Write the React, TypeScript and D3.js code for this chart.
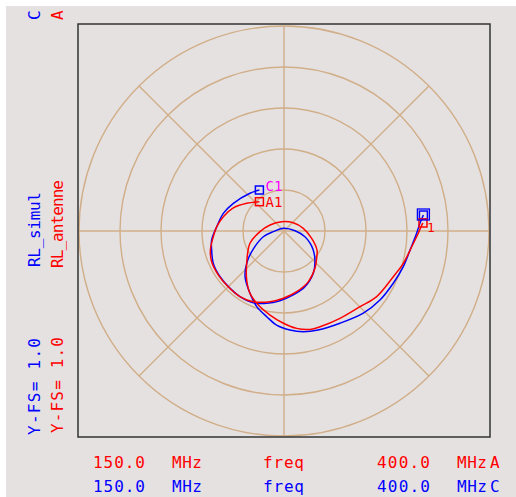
import React, { useRef, useEffect } from 'react';
import * as d3 from 'd3';

// reflection coefficient traces, 150 -> 400 MHz (real / imaginary parts, full scale 1.0)
const simulRe = [-0.120, -0.166, -0.247, -0.296, -0.328, -0.353, -0.353, -0.345, -0.312, -0.263, -0.215, -0.150, -0.084, -0.020, 0.045, 0.102, 0.143, 0.151, 0.141, 0.127, 0.102, 0.054, -0.003, -0.052, -0.101, -0.150, -0.180, -0.190, -0.166, -0.133, -0.084, -0.036, 0.029, 0.094, 0.166, 0.273, 0.387, 0.468, 0.533, 0.582, 0.615, 0.647, 0.663, 0.680];
const simulIm = [0.200, 0.184, 0.135, 0.086, 0.021, -0.044, -0.093, -0.158, -0.223, -0.280, -0.320, -0.350, -0.353, -0.340, -0.312, -0.272, -0.206, -0.141, -0.088, -0.059, -0.028, 0.001, 0.013, -0.003, -0.028, -0.088, -0.151, -0.223, -0.304, -0.369, -0.418, -0.459, -0.483, -0.491, -0.483, -0.450, -0.401, -0.337, -0.255, -0.174, -0.093, -0.011, 0.038, 0.078];

const antenneRe = [-0.120, -0.182, -0.249, -0.296, -0.328, -0.345, -0.359, -0.353, -0.320, -0.272, -0.215, -0.150, -0.068, -0.003, 0.062, 0.119, 0.151, 0.160, 0.161, 0.135, 0.094, 0.045, -0.011, -0.068, -0.117, -0.166, -0.182, -0.182, -0.166, -0.125, -0.068, -0.003, 0.062, 0.127, 0.176, 0.273, 0.371, 0.452, 0.533, 0.582, 0.623, 0.655, 0.672, 0.678];
const antenneIm = [0.143, 0.135, 0.112, 0.070, 0.021, -0.028, -0.093, -0.150, -0.215, -0.272, -0.320, -0.345, -0.345, -0.328, -0.296, -0.247, -0.182, -0.125, -0.093, -0.036, 0.013, 0.040, 0.045, 0.029, -0.003, -0.060, -0.158, -0.239, -0.304, -0.361, -0.410, -0.450, -0.475, -0.480, -0.467, -0.426, -0.369, -0.320, -0.223, -0.158, -0.077, -0.011, 0.029, 0.039];

const gridRadii = [0.2, 0.4, 0.6, 0.8, 1.0];
const spokeAngles = [0, 45, 90, 135, 180, 225, 270, 315];

const BLUE = '#0000ff';
const RED = '#ff0000';
const GRID = '#d0ae88';
const FONT = "'DejaVu Sans Mono', monospace";

const App = () => {
    const svgRef = useRef(null);

    useEffect(() => {
        const svg = d3.select(svgRef.current);
        svg.selectAll('*').remove();

        const cx = 284, cy = 231, R = 205;
        const x = d3.scaleLinear().domain([-1, 1]).range([cx - R, cx + R]);
        const y = d3.scaleLinear().domain([-1, 1]).range([cy + R, cy - R]);
        const r = d3.scaleLinear().domain([0, 1]).range([0, R]);

        svg.append('rect')
            .attr('x', 6).attr('y', 6)
            .attr('width', 510).attr('height', 491)
            .attr('fill', '#e6e1e1');

        svg.append('defs').append('clipPath').attr('id', 'plotclip')
            .append('rect')
            .attr('x', 78).attr('y', 24)
            .attr('width', 412).attr('height', 413);

        const plot = svg.append('g').attr('clip-path', 'url(#plotclip)');

        // polar grid
        plot.selectAll('.ring')
            .data(gridRadii)
            .join('circle')
            .attr('cx', cx).attr('cy', cy)
            .attr('r', d => r(d))
            .attr('fill', 'none')
            .attr('stroke', GRID)
            .attr('stroke-width', 1.4);

        plot.selectAll('.spoke')
            .data(spokeAngles)
            .join('line')
            .attr('x1', cx).attr('y1', cy)
            .attr('x2', d => x(Math.cos(d * Math.PI / 180)))
            .attr('y2', d => y(Math.sin(d * Math.PI / 180)))
            .attr('stroke', GRID)
            .attr('stroke-width', 1.4);

        const line = d3.line()
            .x(d => x(d[0]))
            .y(d => y(d[1]))
            .curve(d3.curveCatmullRom);

        const series = [
            { re: simulRe, im: simulIm, color: BLUE },
            { re: antenneRe, im: antenneIm, color: RED },
        ];

        series.forEach(s => {
            const pts = s.re.map((v, i) => [v, s.im[i]]);
            plot.append('path')
                .datum(pts)
                .attr('d', line)
                .attr('fill', 'none')
                .attr('stroke', s.color)
                .attr('stroke-width', 1.5);

            // markers at both ends
            [pts[0], pts[pts.length - 1]].forEach(p => {
                plot.append('rect')
                    .attr('x', x(p[0]) - 4).attr('y', y(p[1]) - 4)
                    .attr('width', 8).attr('height', 8)
                    .attr('fill', 'none')
                    .attr('stroke', s.color)
                    .attr('stroke-width', 1.5);
            });
        });

        // second box on the blue end marker
        const sEnd = [simulRe[simulRe.length - 1], simulIm[simulIm.length - 1]];
        plot.append('rect')
            .attr('x', x(sEnd[0]) - 6).attr('y', y(sEnd[1]) - 6)
            .attr('width', 12).attr('height', 11)
            .attr('fill', 'none')
            .attr('stroke', BLUE)
            .attr('stroke-width', 1.3);

        // marker labels
        const sStart = [simulRe[0], simulIm[0]];
        const aStart = [antenneRe[0], antenneIm[0]];
        plot.append('text')
            .attr('x', x(sStart[0]) + 6).attr('y', y(sStart[1]) + 1)
            .attr('font-family', FONT).attr('font-size', 14)
            .attr('fill', '#ff00ff')
            .attr('textLength', 17).attr('lengthAdjust', 'spacing')
            .text('C1');
        plot.append('text')
            .attr('x', x(aStart[0]) + 6).attr('y', y(aStart[1]) + 5)
            .attr('font-family', FONT).attr('font-size', 14)
            .attr('fill', RED)
            .attr('textLength', 17).attr('lengthAdjust', 'spacing')
            .text('A1');
        const aEnd = [antenneRe[antenneRe.length - 1], antenneIm[antenneIm.length - 1]];
        plot.append('text')
            .attr('x', x(aEnd[0]) + 4).attr('y', y(aEnd[1]) + 9)
            .attr('font-family', FONT).attr('font-size', 13)
            .attr('fill', RED).text('1');

        // frame
        svg.append('rect')
            .attr('x', 78).attr('y', 24)
            .attr('width', 412).attr('height', 413)
            .attr('fill', 'none')
            .attr('stroke', '#333')
            .attr('stroke-width', 1.5);

        // rotated labels on the left
        const leftText = [
            { t: 'C', bx: 40, sy: 20, len: 0, color: BLUE },
            { t: 'A', bx: 63, sy: 20, len: 0, color: RED },
            { t: 'RL_simul', bx: 40, sy: 267, len: 75, color: BLUE },
            { t: 'RL_antenne', bx: 63, sy: 268, len: 88, color: RED },
            { t: 'Y-FS= 1.0', bx: 40, sy: 435, len: 97, color: BLUE },
            { t: 'Y-FS= 1.0', bx: 63, sy: 433, len: 96, color: RED },
        ];
        leftText.forEach(d => {
            const t = svg.append('text')
                .attr('transform', `translate(${d.bx},${d.sy}) rotate(-90)`)
                .attr('font-family', FONT).attr('font-size', 16)
                .attr('fill', d.color)
                .text(d.t);
            if (d.len) t.attr('textLength', d.len).attr('lengthAdjust', 'spacing');
        });

        // frequency range rows at the bottom
        const rows = [
            { by: 468, color: RED, tag: 'A' },
            { by: 492, color: BLUE, tag: 'C' },
        ];
        const cols = [
            { t: '150.0', x: 93, len: 52 },
            { t: 'MHz', x: 172, len: 30 },
            { t: 'freq', x: 263, len: 41 },
            { t: '400.0', x: 377, len: 53 },
            { t: 'MHz', x: 457, len: 30 },
        ];
        rows.forEach(row => {
            cols.forEach(c => {
                svg.append('text')
                    .attr('x', c.x).attr('y', row.by)
                    .attr('font-family', FONT).attr('font-size', 16)
                    .attr('fill', row.color)
                    .attr('textLength', c.len).attr('lengthAdjust', 'spacing')
                    .text(c.t);
            });
            svg.append('text')
                .attr('x', 490).attr('y', row.by)
                .attr('font-family', FONT).attr('font-size', 16)
                .attr('fill', row.color)
                .text(row.tag);
        });
    }, []);

    return (
        <div style={{ position: 'absolute', left: 0, top: 0 }}>
            <svg ref={svgRef} width="516" height="497" style={{ display: 'block' }}></svg>
        </div>
    );
};

export default App;
